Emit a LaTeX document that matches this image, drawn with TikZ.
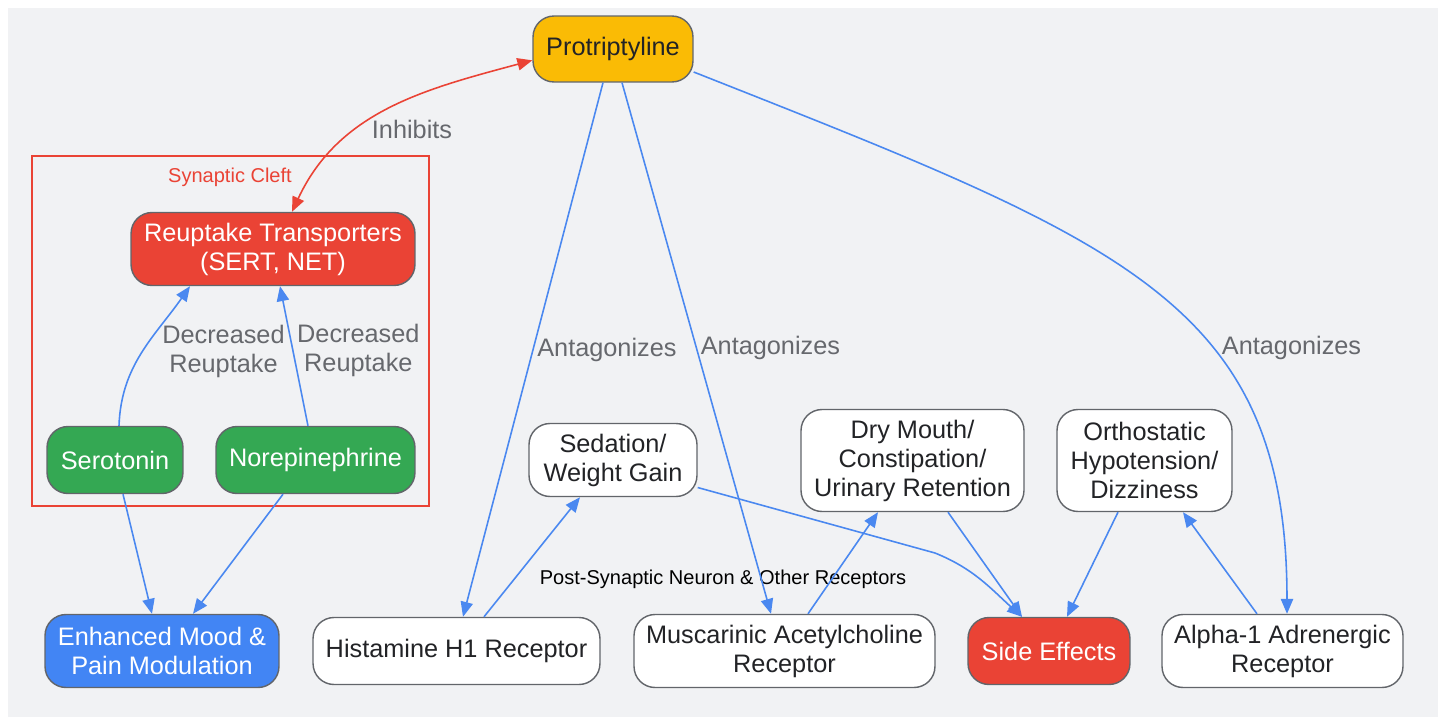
\documentclass[tikz,border=0pt]{standalone}
\usepackage{fontspec}
\setmainfont{Liberation Sans}
\usepackage{xcolor}
\usepackage{tikz}
\usetikzlibrary{arrows.meta, positioning}

\definecolor{bgGrey}{HTML}{F1F2F4}
\definecolor{boxEdge}{HTML}{62656A}
\definecolor{inkDark}{HTML}{222326}
\definecolor{lblGrey}{HTML}{66686D}
\definecolor{drugYellow}{HTML}{FABB05}
\definecolor{alertRed}{HTML}{EA4335}
\definecolor{leafGreen}{HTML}{34A853}
\definecolor{moodBlue}{HTML}{4285F4}
\definecolor{edgeBlue}{HTML}{4A88F0}

\tikzset{
  box/.style={draw=boxEdge, line width=0.8pt, rounded corners=0.42cm, align=center,
    inner sep=2pt, text=inkDark, fill=white, font=\fontsize{14.4}{16.5}\selectfont},
  flow/.style={draw=edgeBlue, line width=0.9pt, -{Triangle[length=8.5pt,width=7pt]}},
  lbl/.style={text=lblGrey, inner sep=2pt, align=center, font=\fontsize{14.4}{16.5}\selectfont},
  small/.style={inner sep=0pt, font=\fontsize{11.4}{13}\selectfont},
}

\begin{document}
\begin{tikzpicture}[x=0.02cm, y=-0.02cm]
  \useasboundingbox (0,0) rectangle (1445,717);
  \fill[bgGrey] (8,8) rectangle (1438,717);

  % synaptic cleft
  \draw[alertRed, line width=0.9pt] (32,156) rectangle (429,506);
  \node[small, text=alertRed] (cleft) at (230,177) {Synaptic Cleft};
  \node[small, text=black] (post) at (723,579) {Post-Synaptic Neuron \& Other Receptors};

  \node[box, fill=drugYellow, minimum width=3.2cm, minimum height=1.32cm] (prot) at (613,49) {Protriptyline};
  \node[box, fill=alertRed, text=white, minimum width=5.68cm, minimum height=1.46cm] (reup) at (273,249) {Reuptake Transporters\\(SERT, NET)};
  \node[box, fill=leafGreen, text=white, minimum width=2.72cm, minimum height=1.34cm] (sero) at (115,460) {Serotonin};
  \node[box, fill=leafGreen, text=white, minimum width=3.98cm, minimum height=1.34cm] (nore) at (315.5,460) {Norepinephrine};
  \node[box, fill=moodBlue, text=white, minimum width=4.68cm, minimum height=1.46cm] (mood) at (162,651) {Enhanced Mood \&\\Pain Modulation};
  \node[box, minimum width=5.74cm, minimum height=1.34cm] (hist) at (456.5,651) {Histamine H1 Receptor};
  \node[box, minimum width=6.02cm, minimum height=1.46cm] (musc) at (784.5,651) {Muscarinic Acetylcholine\\Receptor};
  \node[box, fill=alertRed, text=white, minimum width=3.24cm, minimum height=1.34cm] (side) at (1049,651) {Side Effects};
  \node[box, minimum width=4.82cm, minimum height=1.46cm] (alpha) at (1282.5,651) {Alpha-1 Adrenergic\\Receptor};
  \node[box, minimum width=3.36cm, minimum height=1.46cm] (sed) at (613,460) {Sedation/\\Weight Gain};
  \node[box, minimum width=4.46cm, minimum height=2.04cm] (dry) at (912.5,460.5) {Dry Mouth/\\Constipation/\\Urinary Retention};
  \node[box, minimum width=3.5cm, minimum height=2.04cm] (orth) at (1144.5,460.5) {Orthostatic\\Hypotension/\\Dizziness};

  % drug on transporters
  \draw[alertRed, line width=0.9pt, {Triangle[length=8.5pt,width=7pt]}-{Triangle[length=8.5pt,width=7pt]}]
    (prot.188) to[out=195, in=65] ([xshift=0.38cm]reup.north);
  \node[lbl] (inh) at (412,129) {Inhibits};

  % reuptake
  \draw[flow] ([xshift=0.08cm]sero.north) to[out=88, in=235]
    node[lbl, pos=0.5, anchor=west, xshift=9pt] {Decreased\\Reuptake} ([xshift=-1.66cm]reup.south);
  \draw[flow] ([xshift=-0.15cm]nore.north) -- ([xshift=0.14cm]reup.south)
    node[lbl, pos=0.54, anchor=west] {Decreased\\Reuptake};
  \draw[flow] ([xshift=0.16cm]sero.south) -- ([xshift=-0.2cm]mood.north);
  \draw[flow] ([xshift=-0.65cm]nore.south) -- ([xshift=0.62cm]mood.north);

  % receptors
  \draw[flow] ([xshift=-0.2cm]prot.south) -- ([xshift=0.13cm]hist.north)
    node[lbl, midway, anchor=west] {Antagonizes};
  \draw[flow] ([xshift=0.18cm]prot.south) -- ([xshift=-0.27cm]musc.north)
    node[lbl, midway, anchor=west] {Antagonizes};
  \draw[flow] ([yshift=-0.46cm]prot.east) .. controls +(430,170) and +(0,-312) ..
    node[lbl, pos=0.62, anchor=west, xshift=4pt] {Antagonizes} ([xshift=0.09cm]alpha.north);

  % side effects
  \draw[flow] ([xshift=0.55cm]hist.north) -- ([xshift=-0.66cm]sed.south);
  \draw[flow] ([xshift=0.47cm]musc.north) -- ([xshift=-0.69cm]dry.south);
  \draw[flow] ([xshift=-0.51cm]alpha.north) -- ([xshift=0.77cm]orth.south);
  \coordinate (bend) at (935,553);
  \draw[flow] (sed.-18) -- (bend) to[out=-22, in=138] ([xshift=-0.54cm]side.north);
  \draw[flow] ([xshift=0.71cm]dry.south) -- ([xshift=-0.54cm]side.north);
  \draw[flow] ([xshift=-0.53cm]orth.south) -- ([xshift=0.36cm]side.north);
\end{tikzpicture}
\end{document}
